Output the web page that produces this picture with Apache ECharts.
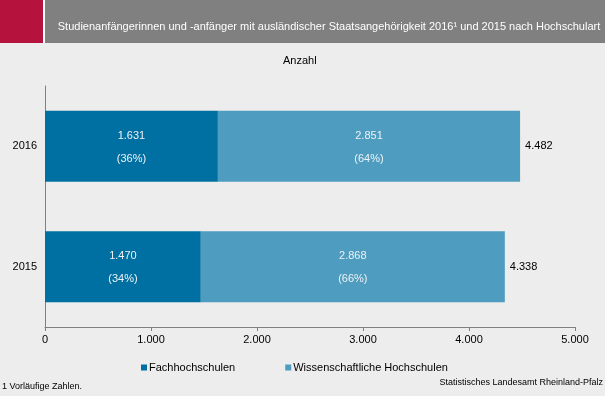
<!DOCTYPE html>
<html>
<head>
<meta charset="UTF-8">
<title>Studienanfänger</title>
<script src="https://cdn.jsdelivr.net/npm/echarts@6/dist/echarts.min.js"></script>
<style>
  html, body { margin: 0; padding: 0; background: #ecedec; }
  #main { width: 605px; height: 396px; }
</style>
</head>
<body>
<div id="main"></div>
<script>
// Daten
var jahre = ['2015', '2016'];
var fachhochschulen = [1470, 1631];
var wissHochschulen = [2868, 2851];
var anteilFH = [34, 36];
var anteilWH = [66, 64];
var summen = [4338, 4482];
var achsenTicks = [0, 1000, 2000, 3000, 4000, 5000];

function fmt(n) {
  return String(n).replace(/\B(?=(\d{3})+(?!\d))/g, '.');
}

var schrift = 'Liberation Sans, Arial, sans-serif';
var chart = echarts.init(document.getElementById('main'));

var option = {
  backgroundColor: '#ecedec',
  textStyle: { fontFamily: schrift },
  animation: false,
  title: {
    text: 'Studienanfängerinnen und -anfänger mit ausländischer Staatsangehörigkeit 2016¹ und 2015 nach Hochschulart',
    left: 324, top: 16, textAlign: 'center',
    textStyle: { color: '#ffffff', fontSize: 11, fontWeight: 'normal', fontFamily: schrift }
  },
  graphic: [
    { type: 'rect', shape: { x: 0, y: 0, width: 43, height: 43 }, style: { fill: '#b5123e' }, z: -1 },
    { type: 'rect', shape: { x: 43, y: 0, width: 2, height: 43 }, style: { fill: '#ffffff' }, z: -1 },
    { type: 'rect', shape: { x: 45, y: 0, width: 560, height: 43 }, style: { fill: '#808080' }, z: -1 },
    { type: 'text', left: 283, top: 55, style: { text: 'Anzahl', fill: '#000', font: '11px ' + schrift } },
    { type: 'text', left: 2, top: 382, style: { text: '1 Vorläufige Zahlen.', fill: '#000', font: '9px ' + schrift } },
    { type: 'text', right: 2, top: 378, style: { text: 'Statistisches Landesamt Rheinland-Pfalz', fill: '#000', font: '9px ' + schrift } }
  ],
  legend: {
    left: 136, top: 357, itemGap: 50, itemWidth: 6, itemHeight: 6,
    icon: 'rect',
    textStyle: { fontSize: 11, color: '#000', padding: [0, 0, 0, -3] },
    data: ['Fachhochschulen', 'Wissenschaftliche Hochschulen']
  },
  grid: { left: 45, right: 30, top: 86, bottom: 69 },
  xAxis: {
    type: 'value', min: achsenTicks[0], max: achsenTicks[achsenTicks.length - 1], interval: 1000,
    axisLine: { show: true, lineStyle: { color: '#808080' } },
    axisTick: { show: true, length: 4, lineStyle: { color: '#808080' } },
    splitLine: { show: false },
    axisLabel: { color: '#000', fontSize: 11, margin: 7, formatter: function (v) { return fmt(v); } }
  },
  yAxis: {
    type: 'category', data: jahre,
    axisLine: { lineStyle: { color: '#808080' } },
    axisTick: { length: 4, lineStyle: { color: '#808080' } },
    axisLabel: { color: '#000', fontSize: 11, margin: 8 }
  },
  series: [
    {
      name: 'Fachhochschulen', type: 'bar', stack: 'a', barCategoryGap: '41%',
      itemStyle: { color: '#0070a2' },
      data: fachhochschulen,
      label: {
        show: true, position: 'inside', offset: [0, 1], color: '#eef2f5', fontSize: 11, lineHeight: 23,
        formatter: function (p) { return fmt(p.value) + '\n(' + anteilFH[p.dataIndex] + '%)'; }
      }
    },
    {
      name: 'Wissenschaftliche Hochschulen', type: 'bar', stack: 'a',
      itemStyle: { color: '#4e9cbf' },
      data: wissHochschulen,
      label: {
        show: true, position: 'inside', offset: [0, 1], color: '#eef2f5', fontSize: 11, lineHeight: 23,
        formatter: function (p) { return fmt(p.value) + '\n(' + anteilWH[p.dataIndex] + '%)'; }
      }
    },
    {
      name: 'Summe', type: 'bar', stack: 'a',
      itemStyle: { color: 'transparent' },
      data: jahre.map(function () { return 0; }),
      label: {
        show: true, position: 'right', distance: 5, color: '#000', fontSize: 11,
        formatter: function (p) { return fmt(summen[p.dataIndex]); }
      }
    }
  ]
};

chart.setOption(option);
</script>
</body>
</html>
